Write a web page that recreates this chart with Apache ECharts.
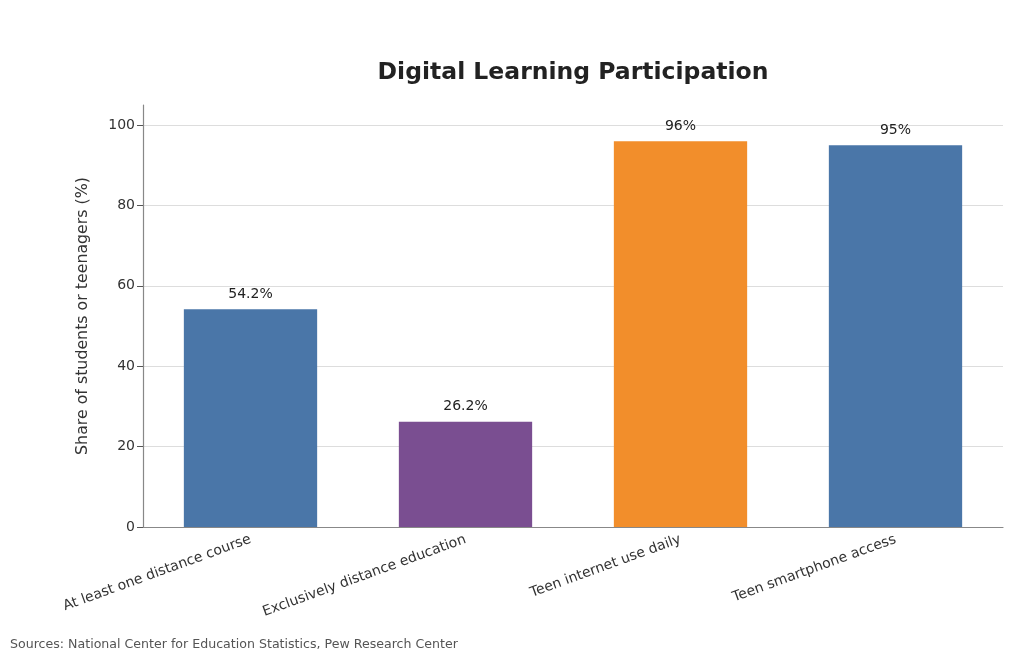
<!DOCTYPE html>
<html><head><meta charset="utf-8">
<script src="https://cdn.jsdelivr.net/npm/echarts@6/dist/echarts.min.js"></script>
<style>html,body{margin:0;padding:0;background:#fff}#c{width:1024px;height:660px}</style>
</head><body><div id="c"></div>
<script>
const categories = ["At least one distance course","Exclusively distance education","Teen internet use daily","Teen smartphone access"];
const values = [54.2, 26.2, 96, 95];
const valueLabels = ["54.2%","26.2%","96%","95%"];
const barColors = ["#4a76a8","#7a4e91","#f28e2b","#4a76a8"];
const yTicks = [0,20,40,60,80,100];

const chart = echarts.init(document.getElementById('c'));
const F = "DejaVu Sans";
chart.setOption({
  animation:false,
  textStyle:{fontFamily:F},
  title:{text:"Digital Learning Participation",left:568,top:56,textAlign:'center',
    textStyle:{fontFamily:F,fontSize:23.5,fontWeight:'bold',color:'#222'}},
  graphic:[{type:'text',left:10,top:638,style:{text:"Sources: National Center for Education Statistics, Pew Research Center",
    font:"12.6px DejaVu Sans",fill:'#555'}}],
  grid:{left:143,right:21,top:105,bottom:133},
  xAxis:{type:'category',data:categories,
    axisLine:{lineStyle:{color:'#888',width:1.2}},
    axisTick:{alignWithLabel:true,length:5,lineStyle:{color:'#555'}},
    axisLabel:{rotate:20,color:'#333',fontSize:14,fontFamily:F,margin:12,interval:0}},
  yAxis:{type:'value',min:0,max:105,interval:20,
    name:"Share of students or teenagers (%)",nameLocation:'middle',nameGap:52,
    nameTextStyle:{fontSize:15.8,color:'#333',fontFamily:F},
    axisLine:{show:true,lineStyle:{color:'#888',width:1.2}},
    axisTick:{show:true,length:6,lineStyle:{color:'#555'},customValues:yTicks},
    axisLabel:{color:'#333',fontSize:14,fontFamily:F,margin:8,customValues:yTicks},
    splitLine:{show:true,lineStyle:{color:'#dddddd',width:1}}},
  series:[{type:'bar',barWidth:'62%',
    data:values.map((v,i)=>({value:v,itemStyle:{color:barColors[i]},label:{formatter:valueLabels[i]}})),
    label:{show:true,position:'top',distance:8,color:'#222',fontSize:14,fontFamily:F},
    z:3}]
});
</script></body></html>
